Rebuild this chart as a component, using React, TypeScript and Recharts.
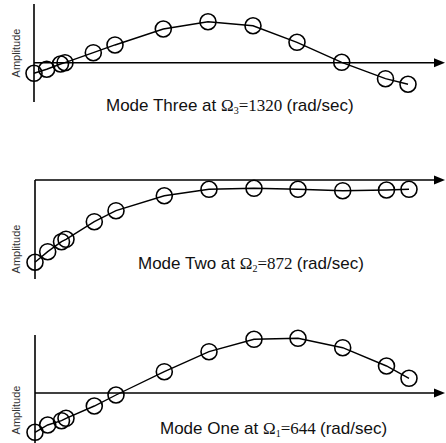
import React from 'react';
import { LineChart, Line, XAxis, YAxis, ReferenceLine, Customized } from 'recharts';

// node positions along the beam (shared by all three modes)
const POSITIONS = [0, 12.7, 26.5, 31, 59.3, 81, 129.3, 174, 219, 263, 307.7, 351.5, 374];
// amplitudes
const MODE_THREE = [-1.07, -0.66, -0.12, 0.01, 1.03, 1.82, 3.45, 4.19, 3.78, 2.09, 0.05, -1.62, -2.19];
const MODE_TWO = [-8.31, -7.24, -6.23, -5.99, -4.21, -3.1, -1.59, -0.94, -0.84, -0.94, -1.08, -1.01, -0.94];
const MODE_ONE = [-3.93, -3.2, -2.77, -2.53, -1.3, -0.2, 2.13, 4.13, 5.37, 5.47, 4.53, 2.7, 1.47];

const SANS = "'Liberation Sans', Arial, sans-serif";
const SERIF = "'Liberation Serif', 'Times New Roman', serif";

type PanelProps = {
  top: number;
  height: number;
  margin: { top: number; bottom: number; left: number; right: number };
  values: number[];
  yDomain: [number, number];
  name: string;
  sub: string;
  freq: string;
  captionX: number;
  captionY: number;
  labelY: number;
};

const Arrow = (props: any) => {
  const { x1, y1, x2 } = props;
  const y = y1;
  return (
    <g>
      <line x1={x1} y1={y} x2={x2 - 8} y2={y} stroke="#000" strokeWidth={1.6} />
      <polygon points={`${x2},${y} ${x2 - 11},${y - 4.5} ${x2 - 11},${y + 4.5}`} fill="#000" />
    </g>
  );
};

const Panel = (p: PanelProps) => {
  const data = POSITIONS.map((x, i) => ({ x, v: p.values[i] }));
  const width = 446;
  const plotW = width - p.margin.left - p.margin.right;
  return (
    <div style={{ position: 'absolute', left: 0, top: p.top, width, height: p.height }}>
      <LineChart width={width} height={p.height} data={data} margin={p.margin}>
        <XAxis type="number" dataKey="x" domain={[0, plotW]} hide />
        <YAxis type="number" domain={p.yDomain} hide />
        <ReferenceLine x={0} stroke="#000" strokeWidth={1.6} />
        <ReferenceLine y={0} shape={Arrow} />
        <Line
          type="linear"
          dataKey="v"
          stroke="#000"
          strokeWidth={1.4}
          isAnimationActive={false}
          dot={{ r: 8, fill: 'none', stroke: '#000', strokeWidth: 1.6 }}
        />
        <Customized
          component={() => (
            <g>
              <text
                x={15.5}
                y={p.labelY}
                transform={`rotate(-90 15.5 ${p.labelY})`}
                textAnchor="middle"
                dominantBaseline="central"
                fontFamily={SANS}
                fontSize={11}
                fill="#333"
              >
                Amplitude
              </text>
              <text x={p.captionX} y={p.captionY} fontFamily={SANS} fontSize={17} fill="#111">
                {`Mode ${p.name} at `}
                <tspan fontFamily={SERIF}>Ω</tspan>
                <tspan fontFamily={SERIF} fontSize={10} dy={3}>{p.sub}</tspan>
                <tspan fontFamily={SERIF} dy={-3}>{`=${p.freq} `}</tspan>
                <tspan>(rad/sec)</tspan>
              </text>
            </g>
          )}
        />
      </LineChart>
    </div>
  );
};

export default function App() {
  return (
    <div style={{ position: 'absolute', left: 0, top: 0, width: 446, height: 443, background: '#fff' }}>
      <Panel
        top={0}
        height={147}
        margin={{ top: 4, bottom: 45, left: 34, right: 1 }}
        values={MODE_THREE}
        yDomain={[-4, 6]}
        name="Three"
        sub="3"
        freq="1320"
        captionX={106}
        captionY={111}
        labelY={53}
      />
      <Panel
        top={147}
        height={148}
        margin={{ top: 33, bottom: 16, left: 35, right: 1 }}
        values={MODE_TWO}
        yDomain={[-10, 0]}
        name="Two"
        sub="2"
        freq="872"
        captionX={138}
        captionY={269 - 147}
        labelY={249 - 147}
      />
      <Panel
        top={295}
        height={148}
        margin={{ top: 40, bottom: 0, left: 35, right: 1 }}
        values={MODE_ONE}
        yDomain={[-5, 5.8]}
        name="One"
        sub="1"
        freq="644"
        captionX={160}
        captionY={434 - 295}
        labelY={410 - 295}
      />
    </div>
  );
}
